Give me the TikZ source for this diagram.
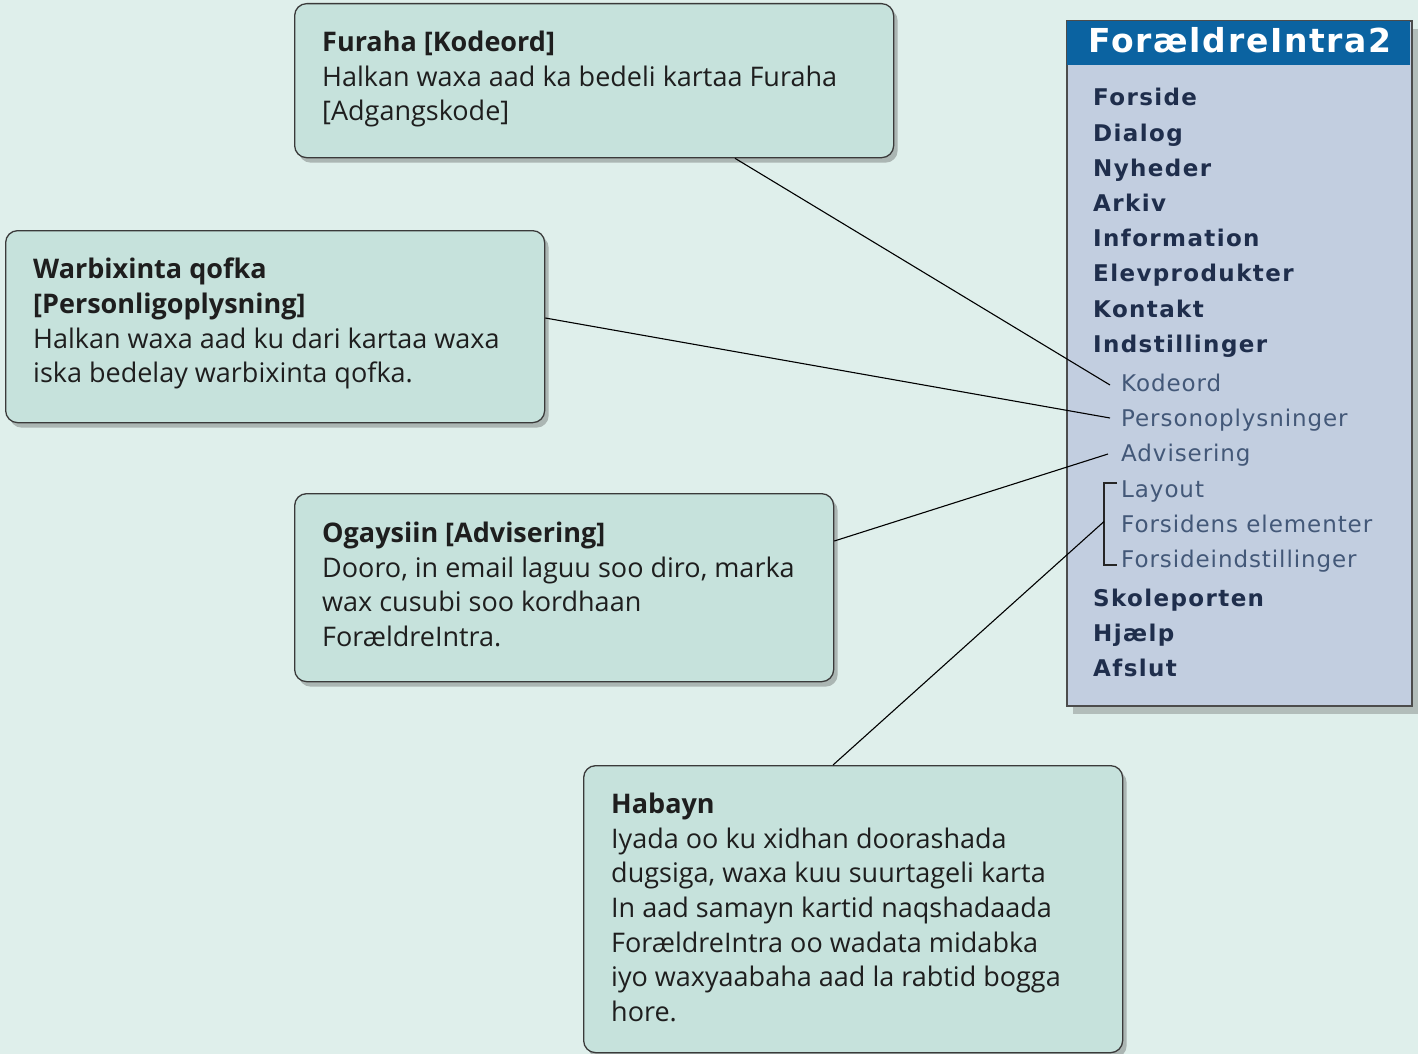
\documentclass[tikz,border=0pt]{standalone}
\usepackage{fontspec}
\setmainfont{Open Sans}
\newfontfamily\menubold[LetterSpace=6]{DejaVu Sans Bold}
\newfontfamily\menureg[LetterSpace=4]{DejaVu Sans}
\newfontfamily\headfont[LetterSpace=5]{DejaVu Sans Bold}
\usetikzlibrary{shadows,calc}
\definecolor{bg}{HTML}{DFEFEB}
\definecolor{boxfill}{HTML}{C6E2DC}
\definecolor{boxline}{HTML}{3A3A3A}
\definecolor{panel}{HTML}{C2CEE0}
\definecolor{headblue}{HTML}{0B63A1}
\definecolor{mainitem}{HTML}{1F2E4C}
\definecolor{subitem}{HTML}{435878}
\definecolor{bodytext}{HTML}{1E1E1E}
\tikzset{
  callout/.style={draw=boxline, line width=1.3pt, fill=boxfill, rounded corners=12pt,
    anchor=north west, inner sep=0pt,
    drop shadow={shadow xshift=4pt, shadow yshift=-5pt, opacity=0.35, fill=black!70}},
  txt/.style={anchor=north west, inner sep=0pt, align=left, text=bodytext,
    font=\fontsize{27}{34.6}\selectfont},
  mitem/.style={anchor=base west, inner sep=0pt, text=mainitem, font=\menubold\fontsize{23}{26}\selectfont},
  sitem/.style={anchor=base west, inner sep=0pt, text=subitem, font=\menureg\fontsize{23}{26}\selectfont},
  conn/.style={draw=black, line width=1.1pt},
}
\begin{document}
\begin{tikzpicture}[x=1pt,y=-1pt]
\useasboundingbox (0,0) rectangle (1418,1054);
\fill[bg] (0,0) rectangle (1418,1054);

% menu panel
\node[draw=black!70, line width=1.6pt, fill=panel, anchor=north west, inner sep=0pt,
  minimum width=345pt, minimum height=685pt,
  drop shadow={shadow xshift=6pt, shadow yshift=-8pt, opacity=0.3, fill=black!70}] (panel) at (1066,20) {};
\fill[headblue] (1067,21) rectangle (1410,65);
\node[text=white, font=\headfont\fontsize{33}{36}\selectfont, inner sep=0pt, anchor=base] (head) at (1240,53) {ForældreIntra2};

\node[mitem] (m1) at (1093,106) {Forside};
\node[mitem] (m2) at (1093,141) {Dialog};
\node[mitem] (m3) at (1093,176) {Nyheder};
\node[mitem] (m4) at (1093,211) {Arkiv};
\node[mitem] (m5) at (1093,246) {Information};
\node[mitem] (m6) at (1093,281) {Elevprodukter};
\node[mitem] (m7) at (1093,317) {Kontakt};
\node[mitem] (m8) at (1093,352) {Indstillinger};
\node[sitem] (s1) at (1121,391) {Kodeord};
\node[sitem] (s2) at (1121,426) {Personoplysninger};
\node[sitem] (s3) at (1121,461) {Advisering};
\node[sitem] (s4) at (1121,497) {Layout};
\node[sitem] (s5) at (1121,532) {Forsidens elementer};
\node[sitem] (s6) at (1121,567) {Forsideindstillinger};
\node[mitem] (m9) at (1093,606) {Skoleporten};
\node[mitem] (m10) at (1093,641) {Hjælp};
\node[mitem] (m11) at (1093,676) {Afslut};

% bracket
\draw[line width=1.1pt, draw=black!85] ($(s4.base west)+(-4,-14)$) -- ($(s4.base west)+(-17,-14)$) coordinate (bt)
  -- ($(s6.base west)+(-17,-2)$) coordinate (bb) -- ($(s6.base west)+(-4,-2)$);
\coordinate (br) at ($(bt)!0.47!(bb)$);

% callout boxes
\node[callout, minimum width=599pt, minimum height=154pt] (b1) at (294,3) {};
\node[txt] (t1) at (322,31) {\textbf{Furaha {[}Kodeord{]}}\\Halkan waxa aad ka bedeli kartaa Furaha\\{[}Adgangskode{]}};

\node[callout, minimum width=539pt, minimum height=192pt] (b2) at (5,230) {};
\node[txt] (t2) at (33,258) {\textbf{Warbixinta qofka}\\\textbf{{[}Personligoplysning{]}}\\Halkan waxa aad ku dari kartaa waxa\\iska bedelay warbixinta qofka.};

\node[callout, minimum width=539pt, minimum height=188pt] (b3) at (294,493) {};
\node[txt] (t3) at (322,522) {\textbf{Ogaysiin {[}Advisering{]}}\\Dooro, in email laguu soo diro, marka\\wax cusubi soo kordhaan\\ForældreIntra.};

\node[callout, minimum width=539pt, minimum height=287pt] (b4) at (583,765) {};
\node[txt] (t4) at (611,793) {\textbf{Habayn}\\Iyada oo ku xidhan doorashada\\dugsiga, waxa kuu suurtageli karta\\In aad samayn kartid naqshadaada\\ForældreIntra oo wadata midabka\\iyo waxyaabaha aad la rabtid bogga\\hore.};

% connectors
\draw[conn] ($(b1.south west)+(441,0)$) -- ($(s1.base west)+(-11,-6)$);
\draw[conn] ($(b2.north east)+(0,88)$) -- ($(s2.base west)+(-11,-8)$);
\draw[conn] ($(b3.north east)+(0,48)$) -- ($(s3.base west)+(-13,-7)$);
\draw[conn] ($(b4.north west)+(250,0)$) -- (br);
\end{tikzpicture}
\end{document}
